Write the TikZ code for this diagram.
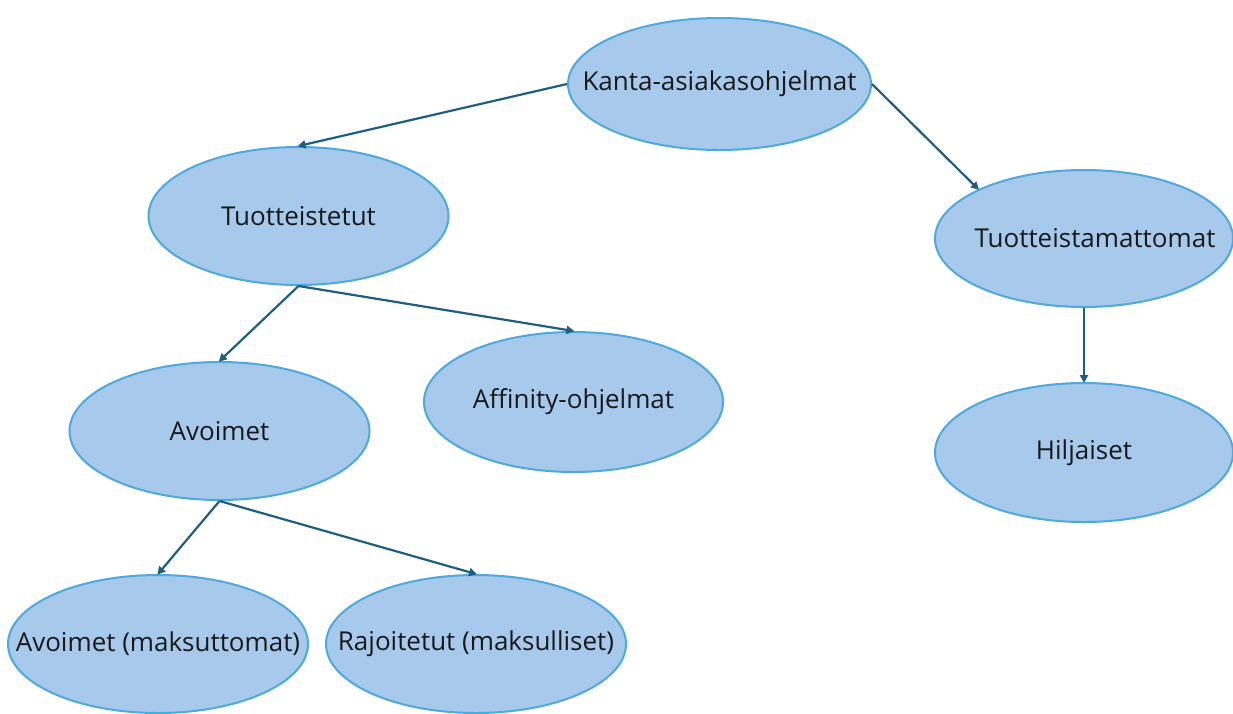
\documentclass[tikz,border=0pt]{standalone}
\usepackage{fontspec}
\setmainfont{Open Sans}
\usetikzlibrary{shapes.geometric,arrows.meta}
\definecolor{efill}{HTML}{A6C9EC}
\definecolor{eline}{HTML}{4EA9DC}
\definecolor{arr}{HTML}{1F5F7E}
\tikzset{
  oval/.style={ellipse, draw=eline, fill=efill, line width=2pt, inner sep=0pt,
    minimum width=300pt, minimum height=138pt,
    label={[font=\fontsize{26}{30}\selectfont, text=black!90]center:\raisebox{-2pt}{#1}}},
  link/.style={draw=arr, line width=2.2pt, -{Triangle[length=8pt,width=8pt]}, shorten >=-1pt}
}
\begin{document}
\begin{tikzpicture}[x=1pt,y=-1pt]
\useasboundingbox (0,0) rectangle (1233,713);
\clip (0,0) rectangle (1233,713);
\fill[white] (0,0) rectangle (1233,713);
\node[oval={Kanta-asiakasohjelmat}, minimum width=303pt, minimum height=132pt] (kanta) at (719.5,84) {};
\node[oval={Tuotteistetut}, minimum height=138pt] (tuot) at (298.5,216) {};
\node[oval={\hspace*{22pt}Tuotteistamattomat}, minimum width=298pt, minimum height=137pt] (tuotm) at (1084,238.5) {};
\node[oval={Avoimet}] (avo) at (219.5,431) {};
\node[oval={\raisebox{-4pt}{Affinity-ohjelmat}}, minimum width=299pt, minimum height=140pt] (aff) at (573.5,402) {};
\node[oval={Hiljaiset}, minimum width=298pt, minimum height=139pt] (hil) at (1084,452.5) {};
\node[oval={Avoimet (maksuttomat)}] (am) at (158,644) {};
\node[oval={Rajoitetut (maksulliset)}] (rm) at (476,644) {};
\draw[link] (kanta.west) -- (tuot.north);
\draw[link] (kanta.east) -- (tuotm.155);
\draw[link] (tuot.south) -- (avo.north);
\draw[link] (tuot.south) -- (aff.north);
\draw[link] (tuotm.south) -- (hil.north);
\draw[link] (avo.south) -- (am.north);
\draw[link] (avo.south) -- (rm.north);
\end{tikzpicture}
\end{document}
